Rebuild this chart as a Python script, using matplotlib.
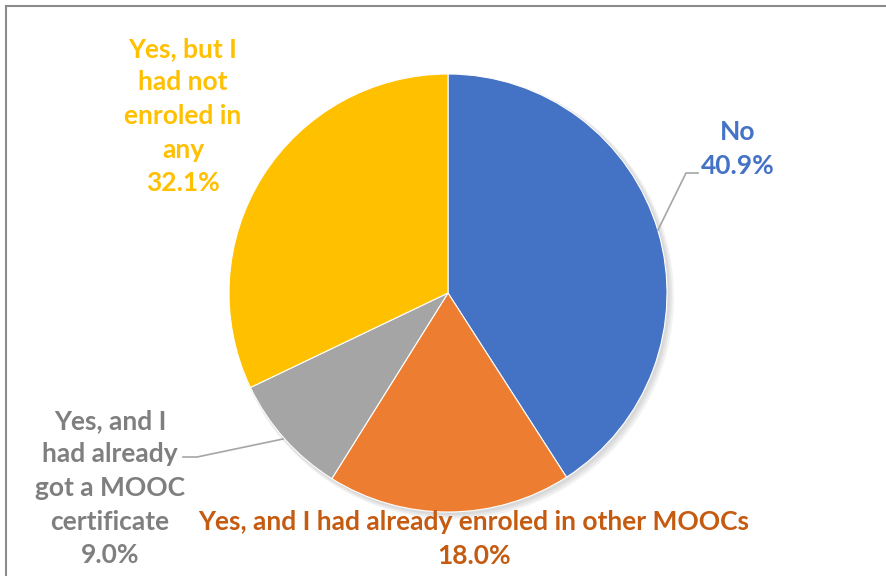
import matplotlib
matplotlib.use("Agg")
import matplotlib.pyplot as plt
from matplotlib.lines import Line2D

categories = ["No", "Yes, and I had already enroled in other MOOCs",
              "Yes, and I had already got a MOOC certificate",
              "Yes, but I had not enroled in any"]
values = [40.9, 18.0, 9.0, 32.1]
slice_colors = ["#4472C4", "#ED7D31", "#A5A5A5", "#FFC000"]
label_colors = ["#4472C4", "#C55A11", "#7F7F7F", "#FFC000"]
label_texts = ["No", "Yes, and I had already enroled in other MOOCs",
               "Yes, and I\nhad already\ngot a MOOC\ncertificate",
               "Yes, but I\nhad not\nenroled in\nany"]

W, H = 886, 576
fig = plt.figure(figsize=(W / 100, H / 100), dpi=100)
ax = fig.add_axes([0, 0, 1, 1])
ax.set_xlim(0, W)
ax.set_ylim(0, H)
ax.set_aspect("equal")
ax.axis("off")

def Y(yp):
    return H - yp

cx, cy, r = 448, Y(293), 219

# soft shadow
for i, a in enumerate([0.05, 0.05, 0.05]):
    sh = plt.Circle((cx + 2 + i, cy - 2 - i), r + 1 + i, color="black", alpha=a, lw=0, zorder=1)
    ax.add_patch(sh)

wedges, _ = ax.pie(values, colors=slice_colors, startangle=90, counterclock=False,
                   center=(cx, cy), radius=r, frame=True,
                   wedgeprops=dict(edgecolor="white", linewidth=0.8, zorder=2))
ax.set_xlim(0, W)
ax.set_ylim(0, H)
ax.axis("off")

font = dict(family=["Lato", "DejaVu Sans"], fontweight="bold", fontsize=19)
ls = 1.48

# label positions (pixels)
pos = [(738, 149), (474, 539), (110, 488), (183, 116)]
texts = [f"{label_texts[i]}\n{values[i]:.1f}%" for i in range(4)]
for i in range(4):
    ax.text(pos[i][0], Y(pos[i][1]), texts[i], color=label_colors[i], ha="center",
            va="center", linespacing=ls, zorder=5, **font)

lc = "#A6A6A6"
ax.add_line(Line2D([658, 686, 698], [Y(230), Y(173), Y(173)], color=lc, lw=1.2, zorder=4))
ax.add_line(Line2D([183, 197, 283], [Y(457), Y(457), Y(439)], color=lc, lw=1.2, zorder=4))

# frame (top and left)
ax.add_line(Line2D([6, W], [Y(6), Y(6)], color="#8C8C8C", lw=1.5, zorder=6))
ax.add_line(Line2D([6, 6], [Y(6), 0], color="#8C8C8C", lw=1.5, zorder=6))

fig.savefig("out.png", dpi=100, facecolor="white")
